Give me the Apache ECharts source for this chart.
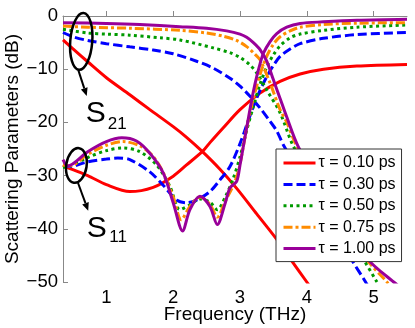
<!DOCTYPE html>
<html lang="en">
<head>
<meta charset="UTF-8">
<title>Scattering Parameters</title>
<script src="https://cdn.jsdelivr.net/npm/echarts@6.0.0/dist/echarts.min.js"></script>
<style>
  html, body { margin: 0; padding: 0; background: #fff; }
  #chart { width: 415px; height: 328px; }
</style>
</head>
<body>
<div id="chart"></div>
<script>
// tick values
var xTicks = [1, 2, 3, 4, 5];
var tauNames = ['τ = 0.10 ps', 'τ = 0.30 ps', 'τ = 0.50 ps', 'τ = 0.75 ps', 'τ = 1.00 ps'];

// S21, [frequency THz, dB]
var s21Tau010 = [[0.35,-4.5],[0.5,-6.2],[0.72,-8.6],[1.0,-11.6],[1.35,-14.8],[1.65,-17.6],[2.0,-20.8],[2.2,-22.8],[2.43,-25.4],[2.7,-28.8],[2.95,-32.4],[3.25,-37.2],[3.55,-42],[3.75,-45.6],[4.0,-50],[4.1,-51.8]];
var s21Tau030 = [[0.35,-3.1],[0.5,-3.9],[0.72,-4.6],[1.0,-5.2],[1.35,-5.8],[1.7,-6.4],[2.0,-7.1],[2.35,-8.5],[2.6,-9.8],[2.85,-11.7],[3.0,-13.2],[3.15,-15.1],[3.3,-17.3],[3.45,-19.8],[3.55,-21.6],[3.66,-24.5],[4.0,-31.5],[4.35,-39],[4.67,-45.8],[4.88,-50],[4.95,-51.5]];
var s21Tau050 = [[0.35,-2.5],[0.72,-3.2],[1.0,-3.4],[1.35,-3.6],[1.8,-4.1],[2.1,-4.5],[2.6,-6.0],[2.85,-6.9],[3.0,-7.8],[3.15,-9.2],[3.25,-10.7],[3.4,-13.9],[3.6,-18.2],[3.8,-24.5],[4.2,-33],[4.55,-40],[4.85,-45.8],[5.05,-50],[5.15,-52]];
var s21Tau075 = [[0.35,-1.9],[0.72,-2.1],[1.35,-2.3],[2.1,-2.7],[2.5,-3.2],[2.75,-3.8],[2.95,-4.6],[3.1,-5.75],[3.2,-6.9],[3.3,-8.25],[3.45,-12.6],[3.6,-17.6],[3.7,-20],[3.85,-24.5],[4.3,-34],[4.9,-45.8],[5.2,-50],[5.3,-51.5]];
var s21Tau100 = [[0.35,-1.25],[1.0,-1.4],[1.5,-1.6],[2.1,-2.0],[2.5,-2.3],[2.8,-2.8],[3.0,-3.4],[3.1,-4.0],[3.2,-5.0],[3.3,-6.3],[3.4,-8.5],[3.5,-12],[3.6,-15.5],[3.7,-19],[3.87,-24.5],[4.3,-34],[4.92,-45.8],[5.3,-50],[5.4,-51]];

// S11, [frequency THz, dB]
var s11Tau010 = [[0.35,-28],[0.42,-28.5],[0.72,-30],[1.0,-31.7],[1.35,-33],[1.7,-32.2],[2.0,-30.1],[2.2,-28],[2.45,-25.3],[2.55,-23.8],[2.75,-21],[3.0,-17.6],[3.3,-14.5],[3.6,-12.3],[3.9,-10.9],[4.25,-10],[4.75,-9.4],[5.5,-9.1]];
var s11Tau030 = [[0.35,-28.3],[0.45,-28.3],[0.72,-27.4],[1.0,-26.9],[1.17,-26.7],[1.35,-27],[1.65,-29.3],[1.85,-31.8],[2.05,-34.6],[2.2,-35.1],[2.35,-34.6],[2.55,-33],[2.7,-30.8],[2.85,-28.3],[3.0,-24],[3.1,-20.5],[3.2,-17],[3.3,-14],[3.4,-11.4],[3.5,-9.3],[3.6,-7.6],[3.75,-6.2],[3.9,-5.2],[4.25,-4.2],[4.75,-3.5],[5.5,-3.1]];
var s11Tau050 = [[0.35,-28.5],[0.45,-28.2],[0.72,-26.6],[1.0,-25.3],[1.25,-24.8],[1.5,-25.5],[1.75,-28],[1.95,-32],[2.1,-36.4],[2.25,-35.5],[2.4,-34.4],[2.55,-35],[2.66,-36.4],[2.78,-34],[2.9,-30.5],[3.0,-26.5],[3.1,-21.5],[3.2,-17],[3.3,-12.8],[3.4,-9.6],[3.5,-7.3],[3.6,-5.6],[3.75,-4.1],[3.9,-3.4],[4.25,-2.7],[4.75,-2.1],[5.5,-1.7]];
var s11Tau075 = [[0.35,-28],[0.45,-28.2],[0.72,-26],[1.0,-24.3],[1.25,-23.6],[1.5,-24.4],[1.7,-26.4],[1.85,-29.4],[2.0,-34],[2.12,-38.3],[2.25,-35.8],[2.4,-34],[2.55,-35.4],[2.66,-37.8],[2.78,-34.8],[2.9,-31.8],[2.98,-29],[3.05,-24.5],[3.1,-21],[3.2,-15.5],[3.3,-11],[3.4,-7.6],[3.5,-5.3],[3.6,-3.9],[3.75,-2.8],[3.9,-2.1],[4.25,-1.6],[4.75,-1.35],[5.5,-1.25]];
var s11Tau100 = [[0.35,-27],[0.42,-28.2],[0.72,-25.5],[1.0,-23.6],[1.23,-22.9],[1.45,-23.5],[1.65,-25.8],[1.85,-29.5],[2.0,-35.1],[2.14,-40.4],[2.25,-36.4],[2.4,-33.9],[2.55,-35.8],[2.66,-39.2],[2.78,-35.1],[2.85,-32.3],[2.95,-31.1],[3.0,-28],[3.05,-24.5],[3.1,-21],[3.15,-17.5],[3.2,-14.2],[3.25,-11.4],[3.3,-9],[3.35,-7],[3.45,-4.8],[3.55,-3.3],[3.7,-2.1],[3.9,-1.4],[4.25,-1.1],[4.75,-0.8],[5.5,-0.6]];

var s21All = [s21Tau010, s21Tau030, s21Tau050, s21Tau075, s21Tau100];
var s11All = [s11Tau010, s11Tau030, s11Tau050, s11Tau075, s11Tau100];

var colors = ['#ff0000', '#0000ff', '#009a00', '#ff8c00', '#990099'];
var dashes = ['solid', [9, 4], [3, 3.5], [9, 3, 3, 3], 'solid'];
var font = '"Liberation Sans", Arial, sans-serif';

var chart = echarts.init(document.getElementById('chart'));

var series = [];
function addLine(name, data, i) {
    series.push({
        name: name,
        type: 'line',
        data: data,
        symbol: 'none',
        smooth: 0.3,
        animation: false,
        clip: true,
        lineStyle: { color: colors[i], width: 3, type: dashes[i], cap: 'butt' },
        itemStyle: { color: colors[i] }
    });
}
for (var i = 0; i < 5; i++) {
    addLine(tauNames[i], s21All[i], i);
    addLine(tauNames[i], s11All[i], i);
}

chart.setOption({
    animation: false,
    grid: { left: 63, right: 8, top: 16, bottom: 46, outerBoundsMode: 'none', containLabel: false },
    xAxis: {
        type: 'value',
        min: 0.35,
        max: 5.5,
        name: 'Frequency (THz)',
        nameLocation: 'middle',
        nameGap: 23,
        nameMoveOverlap: false,
        nameTextStyle: { fontSize: 19, color: '#000', fontFamily: font },
        axisLine: { lineStyle: { color: '#888', width: 1 } },
        axisTick: { inside: true, length: 5, customValues: xTicks, lineStyle: { color: '#888' } },
        axisLabel: { customValues: xTicks, fontSize: 18.5, color: '#000', fontFamily: font, margin: 6 },
        splitLine: { show: false }
    },
    yAxis: {
        type: 'value',
        min: -50,
        max: 0,
        interval: 10,
        name: 'Scattering Parameters (dB)',
        nameLocation: 'middle',
        nameGap: 41,
        nameMoveOverlap: false,
        nameTextStyle: { fontSize: 19, color: '#000', fontFamily: font },
        axisLine: { show: true, lineStyle: { color: '#888', width: 1 } },
        axisTick: { show: true, inside: true, length: 5, lineStyle: { color: '#888' } },
        axisLabel: {
            fontSize: 18.5, color: '#000', fontFamily: font, margin: 5,
            formatter: function (v) { return v < 0 ? '\u2212' + Math.abs(v) : String(v); }
        },
        splitLine: { show: false }
    },
    legend: {
        data: tauNames,
        orient: 'vertical',
        left: 276,
        top: 149,
        padding: [5, 6, 4, 6],
        itemWidth: 32,
        itemHeight: 14,
        itemGap: 3.4,
        backgroundColor: '#fff',
        borderColor: '#333',
        borderWidth: 1,
        borderRadius: 0,
        selectedMode: false,
        itemStyle: { opacity: 0 },
        lineStyle: { width: 3 },
        textStyle: { fontSize: 16, color: '#000', fontFamily: font, lineHeight: 18, padding: [0, 0, 0, -2] }
    },
    series: series
});

// S21 / S11 annotations, anchored on data coordinates
var notes = [
    { at: [0.623, -4.78], rx: 11, ry: 28.5, rot: -0.08, arrow: [-3, 28.5, 5.5, 54.5], s: [4.5, 72], sub: [26.5, 83], label: '21' },
    { at: [0.551, -28.1], rx: 10.2, ry: 17.5, rot: -0.15, arrow: [1.6, 17.5, 11.8, 45.2], s: [10.3, 63.7], sub: [32.8, 72.2], label: '11' }
];
var graphics = [];
notes.forEach(function (n) {
    var c = chart.convertToPixel({ gridIndex: 0 }, n.at);
    graphics.push({
        type: 'ellipse', x: c[0], y: c[1], rotation: n.rot, z: 100,
        shape: { cx: 0, cy: 0, rx: n.rx, ry: n.ry },
        style: { fill: 'none', stroke: '#000', lineWidth: 2.5 }
    });
    var x1 = c[0] + n.arrow[0], y1 = c[1] + n.arrow[1];
    var x2 = c[0] + n.arrow[2], y2 = c[1] + n.arrow[3];
    var dx = x2 - x1, dy = y2 - y1, len = Math.sqrt(dx * dx + dy * dy);
    var ux = dx / len, uy = dy / len;
    var bx = x2 - ux * 8, by = y2 - uy * 8;
    graphics.push({
        type: 'line', z: 100,
        shape: { x1: x1, y1: y1, x2: bx, y2: by },
        style: { stroke: '#000', lineWidth: 2 }
    });
    graphics.push({
        type: 'polygon', z: 100,
        shape: { points: [[x2, y2], [bx - uy * 3.5, by + ux * 3.5], [bx + uy * 3.5, by - ux * 3.5]] },
        style: { fill: '#000' }
    });
    graphics.push({
        type: 'text', z: 100, x: c[0] + n.s[0], y: c[1] + n.s[1],
        style: { text: 'S', fontSize: 30, fontFamily: font, fill: '#000', align: 'left', verticalAlign: 'middle' }
    });
    graphics.push({
        type: 'text', z: 100, x: c[0] + n.sub[0], y: c[1] + n.sub[1],
        style: { text: n.label, fontSize: 17, fontFamily: font, fill: '#000', align: 'left', verticalAlign: 'middle' }
    });
});
chart.setOption({ graphic: graphics });
</script>
</body>
</html>
